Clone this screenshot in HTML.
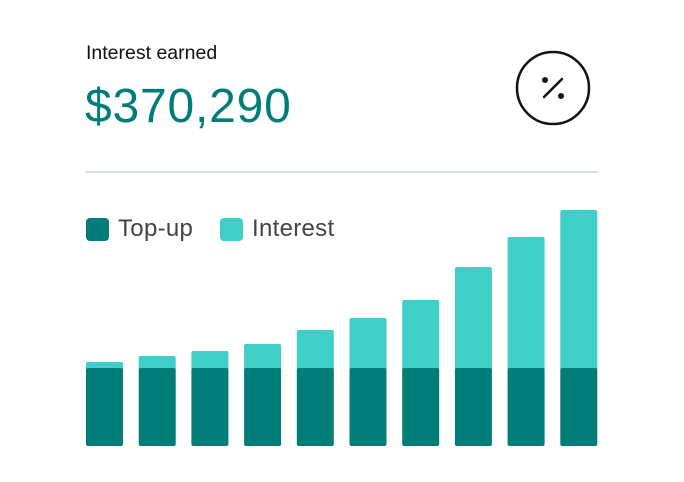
<!DOCTYPE html>
<html><head><meta charset="utf-8"><style>
body{margin:0;width:684px;height:482px;background:#fff;font-family:"Liberation Sans",sans-serif;position:relative;overflow:hidden}
.t{position:absolute;left:86px;top:42px;font-size:19.5px;color:#111}
.v{position:absolute;left:85px;top:79px;font-size:48px;color:#007d78;letter-spacing:0.8px}
.hr{position:absolute;left:86px;top:171px;width:512px;height:2px;background:#d3dce0}
.lg{position:absolute;top:215px;font-size:24px;color:#444;display:flex;align-items:center;letter-spacing:0.3px}
.sw{width:23px;height:23px;border-radius:4px;margin-right:9px}
</style></head><body>
<div class="t">Interest earned</div>
<div class="v">$370,290</div>
<svg style="position:absolute;left:514px;top:49px" width="80" height="80">
<circle cx="39" cy="39" r="36" fill="none" stroke="#111" stroke-width="2.5"/>
<line x1="30" y1="48" x2="48" y2="30" stroke="#111" stroke-width="2.5" stroke-linecap="round"/>
<circle cx="31" cy="31" r="3" fill="#111"/><circle cx="47" cy="47" r="3" fill="#111"/>
</svg>
<div class="hr"></div>
<div class="lg" style="left:86px"><div class="sw" style="background:#007d78"></div>Top-up</div>
<div class="lg" style="left:220px"><div class="sw" style="background:#3fcfc6"></div>Interest</div>
<svg id="chart" style="position:absolute;left:0;top:0" width="684" height="482"></svg>
<script>
const categories=[1,2,3,4,5,6,7,8,9,10];
const topup=[78,78,78,78,78,78,78,78,78,78];
const interest=[6,12,17,24,38,50,68,101,131,158];
const NS="http://www.w3.org/2000/svg";
const svg=document.getElementById('chart');
const x0=86,pitch=52.7,bw=37,base=446;
function xs(i){return x0+i*pitch;}
function ys(v){return base-v;}
function rect(x,y,w,h,c,name){
 const r=document.createElementNS(NS,'rect');
 r.setAttribute('x',x);r.setAttribute('y',y);r.setAttribute('width',w);r.setAttribute('height',h);
 r.setAttribute('rx',2);r.setAttribute('fill',c);
 
 
 svg.appendChild(r);
}
categories.forEach((c,i)=>{
 const t=topup[i],s=interest[i];
 rect(xs(i),ys(t+s),bw,s+3,'#3fcfc6','bar-interest-'+c);
 rect(xs(i),ys(t),bw,t,'#007d78','bar-topup-'+c);
});
</script>
</body></html>
